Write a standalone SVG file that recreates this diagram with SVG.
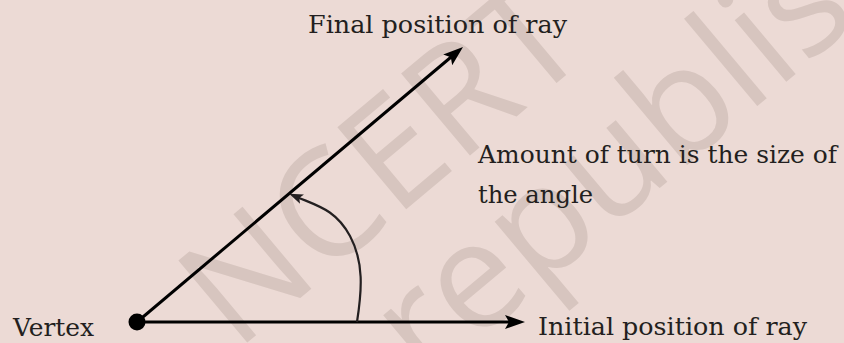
<svg xmlns="http://www.w3.org/2000/svg" width="844" height="343" viewBox="0 0 844 343">
  <style>
    .lbl { font-family: "DejaVu Serif", "Liberation Serif", serif; font-size: 24px; fill: #231f20; }
    .wm { font-family: "Open Sans", "Noto Sans", sans-serif; font-size: 150px; fill: #d7c5bf; }
    .ray { stroke: #000; stroke-width: 3; fill: none; }
    .turn { stroke: #231f20; stroke-width: 2.2; fill: none; }
  </style>
  <defs>
    <marker id="ah" viewBox="0 0 20 14" markerWidth="20" markerHeight="14" refX="6" refY="7" orient="auto" markerUnits="userSpaceOnUse">
      <path d="M0,0 L20,7 L0,14 L4,7 z" fill="#000"/>
    </marker>
    <marker id="ahs" viewBox="0 0 14 10" markerWidth="14" markerHeight="10" refX="5" refY="5" orient="auto" markerUnits="userSpaceOnUse">
      <path d="M0,0 L14,5 L0,10 L3,5 z" fill="#231f20"/>
    </marker>
  </defs>
  <rect x="0" y="0" width="844" height="343" fill="#ecdad5"/>
  <g id="watermark">
    <text class="wm" transform="translate(236,352) rotate(-40)">NCERT</text>
    <text class="wm" transform="translate(425,385) rotate(-40)">republished</text>
  </g>
  <g id="connectors">
    <line class="ray" x1="137" y1="322" x2="511" y2="322" marker-end="url(#ah)"/>
    <line class="ray" x1="137" y1="322" x2="452.3" y2="56" marker-end="url(#ah)"/>
    <path class="turn" d="M357,322 C362,290 364,262 350,236 S318,206 297.4,197.2" marker-end="url(#ahs)"/>
  </g>
  <g id="vertex">
    <circle cx="137" cy="322" r="8.5" fill="#000"/>
    <text class="lbl" x="13" y="336" textLength="81" lengthAdjust="spacingAndGlyphs">Vertex</text>
  </g>
  <g id="final-ray">
    <text class="lbl" x="308" y="33" textLength="259" lengthAdjust="spacingAndGlyphs">Final position of ray</text>
  </g>
  <g id="initial-ray">
    <text class="lbl" x="538" y="335" textLength="269" lengthAdjust="spacingAndGlyphs">Initial position of ray</text>
  </g>
  <g id="turn-label">
    <text class="lbl" x="478" y="163" textLength="359" lengthAdjust="spacingAndGlyphs">Amount of turn is the size of</text>
    <text class="lbl" x="478" y="203" textLength="115" lengthAdjust="spacingAndGlyphs">the angle</text>
  </g>
</svg>
